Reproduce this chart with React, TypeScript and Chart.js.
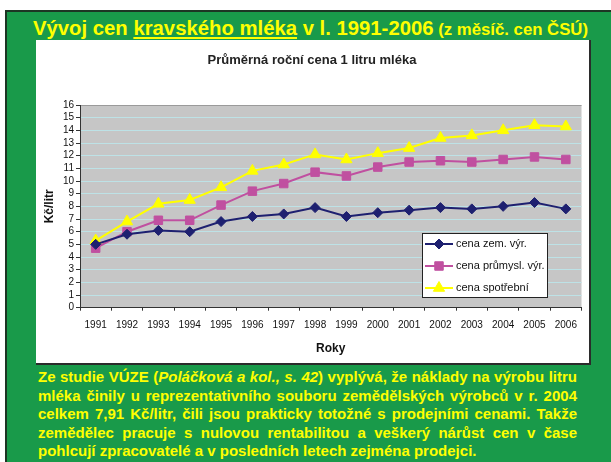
import React, { useEffect, useLayoutEffect, useRef } from 'react';
import { Chart, registerables } from 'chart.js';

Chart.register(...registerables);

// ---------- data ----------
const years = ['1991', '1992', '1993', '1994', '1995', '1996', '1997', '1998', '1999', '2000', '2001', '2002', '2003', '2004', '2005', '2006'];
const cenaZem = [5.0, 5.8, 6.1, 6.0, 6.8, 7.2, 7.4, 7.9, 7.2, 7.5, 7.7, 7.9, 7.8, 8.0, 8.3, 7.8];
const cenaPrumysl = [4.7, 6.0, 6.9, 6.9, 8.1, 9.2, 9.8, 10.7, 10.4, 11.1, 11.5, 11.6, 11.5, 11.7, 11.9, 11.7];
const cenaSpotrebni = [5.3, 6.8, 8.2, 8.5, 9.5, 10.8, 11.3, 12.1, 11.7, 12.2, 12.6, 13.4, 13.6, 14.0, 14.4, 14.3];
const seriesLabels = ['cena zem. výr.', 'cena průmysl. výr.', 'cena spotřební'];
const yMin = 0;
const yMax = 16;
const yStep = 1;

const chartTitle = 'Průměrná roční cena 1 litru mléka';
const xTitle = 'Roky';
const yTitle = 'Kč/litr';

// ---------- styles ----------
const FONT = '"Liberation Sans", Arial, Helvetica, sans-serif';
const GREEN = '#199a4a';
const YELLOW = '#ffff00';
const NAVY = '#1e2070';
const PINK = '#c050a0';
const SERIES_YELLOW = '#ffff00';
const PLOT_BG = '#c6c6c6';
const GRID = '#bde2e6';

Chart.defaults.font.family = FONT;

const PARA_L = 38;
const PARA_W = 539;

function drawMarker(ctx: CanvasRenderingContext2D, style: string, x: number, y: number, r: number, color: string) {
  ctx.save();
  ctx.fillStyle = color;
  ctx.strokeStyle = color;
  ctx.lineWidth = 1;
  ctx.beginPath();
  if (style === 'rectRot') {
    ctx.moveTo(x - r, y);
    ctx.lineTo(x, y - r);
    ctx.lineTo(x + r, y);
    ctx.lineTo(x, y + r);
  } else if (style === 'rect') {
    const s = r * Math.SQRT1_2;
    ctx.rect(x - s, y - s, 2 * s, 2 * s);
  } else {
    const w = r * Math.sin((2 * Math.PI) / 3);
    ctx.moveTo(x, y - r);
    ctx.lineTo(x + w, y + r / 2);
    ctx.lineTo(x - w, y + r / 2);
  }
  ctx.closePath();
  ctx.fill();
  ctx.stroke();
  ctx.restore();
}

const bgPlugin = {
  id: 'plotBg',
  beforeDraw(chart: any) {
    const { ctx, chartArea } = chart;
    ctx.save();
    ctx.fillStyle = '#ffffff';
    ctx.fillRect(0, 0, chart.width, chart.height);
    ctx.fillStyle = PLOT_BG;
    ctx.fillRect(chartArea.left, chartArea.top, chartArea.right - chartArea.left, chartArea.bottom - chartArea.top);
    ctx.restore();
  },
};

const legendPlugin = {
  id: 'boxLegend',
  afterDraw(chart: any) {
    const { ctx, chartArea } = chart;
    const x0 = chartArea.left + 342;
    const y0 = chartArea.top + 128;
    const w = 126;
    const h = 65;
    ctx.save();
    ctx.fillStyle = '#ffffff';
    ctx.fillRect(x0, y0, w, h);
    ctx.strokeStyle = '#222222';
    ctx.lineWidth = 1;
    ctx.strokeRect(x0 + 0.5, y0 + 0.5, w - 1, h - 1);
    chart.data.datasets.forEach((ds: any, i: number) => {
      const cy = y0 + 11 + i * 22;
      ctx.strokeStyle = ds.borderColor;
      ctx.lineWidth = 2;
      ctx.beginPath();
      ctx.moveTo(x0 + 3, cy);
      ctx.lineTo(x0 + 31, cy);
      ctx.stroke();
      drawMarker(ctx, ds.pointStyle, x0 + 17, cy, ds.pointRadius, ds.backgroundColor);
      ctx.fillStyle = '#111111';
      ctx.font = `11px ${FONT}`;
      ctx.textBaseline = 'middle';
      ctx.textAlign = 'left';
      ctx.fillText(ds.label, x0 + 34, cy);
    });
    ctx.restore();
  },
};

function FitTitle() {
  const ref = useRef<HTMLSpanElement>(null);
  useLayoutEffect(() => {
    const el = ref.current;
    if (!el) return;
    el.style.transform = 'none';
    const natural = el.getBoundingClientRect().width;
    const target = 555;
    el.style.transform = `scaleX(${target / natural})`;
  }, []);
  return (
    <div style={{ position: 'absolute', left: 33, top: 16, whiteSpace: 'nowrap', lineHeight: '24px', color: YELLOW, fontFamily: FONT, fontWeight: 'bold' }}>
      <span ref={ref} style={{ display: 'inline-block', transformOrigin: 'left center' }}>
        <span style={{ fontSize: 20 }}>
          Vývoj cen <span style={{ textDecoration: 'underline', textUnderlineOffset: 2 }}>kravského mléka</span> v l. 1991-2006
        </span>
        <span style={{ fontSize: 16.5 }}> (z měsíč. cen ČSÚ)</span>
      </span>
    </div>
  );
}

function ParaLine({ top, justify, children }: { top: number; justify: boolean; children: React.ReactNode }) {
  const ref = useRef<HTMLSpanElement>(null);
  useLayoutEffect(() => {
    const el = ref.current;
    if (!el) return;
    el.style.wordSpacing = '0px';
    const natural = el.getBoundingClientRect().width;
    if (justify) {
      const spaces = ((el.textContent || '').match(/ /g) || []).length;
      if (spaces > 0) el.style.wordSpacing = `${(PARA_W - natural) / spaces}px`;
    }
  }, []);
  return (
    <div style={{ position: 'absolute', left: PARA_L, top, whiteSpace: 'nowrap', fontFamily: FONT, fontWeight: 'bold', fontSize: 15, lineHeight: '18px', color: YELLOW }}>
      <span ref={ref} style={{ display: 'inline-block' }}>{children}</span>
    </div>
  );
}

function ChartBox() {
  const canvasRef = useRef<HTMLCanvasElement>(null);
  useEffect(() => {
    const canvas = canvasRef.current;
    if (!canvas) return;
    const chart = new Chart(canvas, {
      type: 'line',
      data: {
        labels: years,
        datasets: [
          { label: seriesLabels[0], data: cenaZem, borderColor: NAVY, backgroundColor: NAVY, pointStyle: 'rectRot', pointRadius: 5, pointBorderWidth: 1, borderWidth: 2, tension: 0 },
          { label: seriesLabels[1], data: cenaPrumysl, borderColor: PINK, backgroundColor: PINK, pointStyle: 'rect', pointRadius: 6, pointBorderWidth: 1, borderWidth: 2, tension: 0 },
          { label: seriesLabels[2], data: cenaSpotrebni, borderColor: SERIES_YELLOW, backgroundColor: SERIES_YELLOW, pointStyle: 'triangle', pointRadius: 6.5, pointBorderWidth: 1, borderWidth: 2, tension: 0 },
        ] as any,
      },
      options: {
        animation: false,
        responsive: false,
        maintainAspectRatio: false,
        events: [],
        layout: { padding: { left: 0, right: 1, top: 0, bottom: 0 } },
        plugins: {
          legend: { display: false },
          tooltip: { enabled: false },
          title: {
            display: true,
            text: chartTitle,
            color: '#222222',
            font: { size: 13, weight: 'bold' },
            padding: { top: 12.2, bottom: 37.2 },
          },
        },
        scales: {
          x: {
            type: 'category',
            offset: true,
            grid: { display: true, drawOnChartArea: false, offset: true, tickLength: 3, color: '#333333', tickColor: '#333333' },
            border: { display: true, color: '#333333', width: 1 },
            ticks: { color: '#111111', font: { size: 10 }, padding: 9, maxRotation: 0, autoSkip: false },
            title: { display: true, text: xTitle, color: '#111111', font: { size: 12, weight: 'bold' }, padding: { top: 0, bottom: 6.8 } },
            afterFit: (s: any) => { s.height = 55.3; },
          },
          y: {
            type: 'linear',
            min: yMin,
            max: yMax,
            ticks: { stepSize: yStep, autoSkip: false, color: '#111111', font: { size: 10 }, padding: 2 },
            grid: {
              color: (c: any) => (c.tick && c.tick.value === yMax ? '#9a9a9a' : GRID),
              tickColor: '#333333',
              tickLength: 4,
              lineWidth: 1,
            },
            border: { display: true, color: '#333333', width: 1 },
            title: { display: true, text: yTitle, color: '#111111', font: { size: 12, weight: 'bold' }, padding: { top: 6.5, bottom: 0 } },
            afterFit: (s: any) => { s.width = 44; },
          },
        },
      } as any,
      plugins: [bgPlugin, legendPlugin],
    });
    return () => chart.destroy();
  }, []);
  return <canvas ref={canvasRef} width={553} height={323} style={{ display: 'block', width: 553, height: 323 }} />;
}

export default function App() {
  useLayoutEffect(() => {
    document.documentElement.style.overflow = 'hidden';
    document.body.style.margin = '0';
    document.body.style.overflow = 'hidden';
    document.body.style.background = GREEN;
  }, []);
  const lineTop = (i: number) => 368 + i * 18.5;
  return (
    <div style={{ position: 'fixed', left: 0, top: 0, width: 611, height: 462, overflow: 'hidden', background: GREEN }}>
      <div style={{ position: 'absolute', left: 0, top: 0, width: 611, height: 10, background: '#ffffff' }} />
      <div style={{ position: 'absolute', left: 0, top: 0, width: 5, height: 462, background: '#ffffff' }} />
      <div style={{ position: 'absolute', left: 5, top: 10, width: 606, height: 452, background: GREEN, borderLeft: '2px solid #1d3524', borderTop: '2px solid #1d3524', boxSizing: 'border-box' }} />
      <FitTitle />
      <div style={{ position: 'absolute', left: 36, top: 40, width: 553, height: 323, background: '#ffffff', borderRight: '2px solid #2b2b2b', borderBottom: '2px solid #2b2b2b' }}>
        <ChartBox />
      </div>
      <ParaLine top={lineTop(0)} justify={true}>
        Ze studie VÚZE (<i>Poláčková a kol., s. 42</i>) vyplývá, že náklady na výrobu litru
      </ParaLine>
      <ParaLine top={lineTop(1)} justify={true}>
        mléka činily u reprezentativního souboru zemědělských výrobců v r. 2004
      </ParaLine>
      <ParaLine top={lineTop(2)} justify={true}>
        celkem 7,91 Kč/litr, čili jsou prakticky totožné s prodejními cenami. Takže
      </ParaLine>
      <ParaLine top={lineTop(3)} justify={true}>
        zemědělec pracuje s nulovou rentabilitou a veškerý nárůst cen v čase
      </ParaLine>
      <ParaLine top={lineTop(4)} justify={false}>
        pohlcují zpracovatelé a v posledních letech zejména prodejci.
      </ParaLine>
    </div>
  );
}
